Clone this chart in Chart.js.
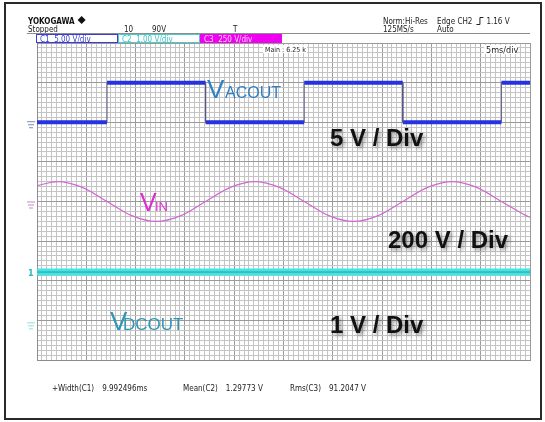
<!DOCTYPE html>
<html>
<head>
<meta charset="utf-8">
<script src="https://cdn.jsdelivr.net/npm/chart.js@4.4.1/dist/chart.umd.min.js"></script>
<style>
  html, body { margin: 0; padding: 0; background: #fff; }
  canvas { display: block; }
</style>
</head>
<body>
<canvas id="scopeChart" width="545" height="422"></canvas>
<script>
// Onda cuadrada de salida AC: tiempos de flanco (ms) y niveles (V)
const acEdges = [0, 7.1, 17.1, 27.1, 37.1, 47.1, 50];
const acLevels = [0, 5, 0, 5, 0, 5];

const vinTimes = [0, 2.1, 4.6, 7.1, 9.6, 12.1, 14.6, 17.1, 19.6, 22.1, 24.6, 27.1, 29.6, 32.1, 34.6, 37.1, 39.6, 42.1, 44.6, 47.1, 49.6, 50];
const vinValues = [100, 126, 89, 0, -89, -126, -89, 0, 89, 126, 89, 0, -89, -126, -89, 0, 89, 126, 89, 0, -89, -100];

// Salida DC
const dcTimes = [0, 50];
const dcValues = [1.22, 1.22];

// Textos de la pantalla
const channelLabels = ["C1  5.00 V/div", "C2  1.00 V/div", "C3  250 V/div"];
const measureLabels = ["+Width(C1)", "Mean(C2)", "Rms(C3)"];
const measureValues = ["9.992496ms", "1.29773 V", "91.2047 V"];

document.addEventListener("DOMContentLoaded", () => {
  // Puntos de la onda cuadrada: tramos horizontales y flancos por separado
  const acLevelPoints = [];
  const acEdgePoints = [];
  acLevels.forEach((v, i) => {
    acLevelPoints.push({ x: acEdges[i], y: v }, { x: acEdges[i + 1], y: v }, { x: acEdges[i + 1], y: null });
    if (i > 0) {
      acEdgePoints.push({ x: acEdges[i], y: acLevels[i - 1] }, { x: acEdges[i], y: v }, { x: acEdges[i], y: null });
    }
  });
  const vinPoints = vinTimes.map((t, i) => ({ x: t, y: vinValues[i] }));
  const dcPoints = dcTimes.map((t, i) => ({ x: t, y: dcValues[i] }));

  const isMajor = (v) => Math.abs(v - Math.round(v)) < 1e-6;
  const isMajorX = (v) => Math.abs(v / 5 - Math.round(v / 5)) < 1e-6;

  const narrow = "'Liberation Sans Narrow', 'DejaVu Sans Condensed', sans-serif";
  const sans = "'Liberation Sans', Arial, sans-serif";

  function txt(ctx, s, x, y, font, color) {
    ctx.font = font;
    ctx.fillStyle = color;
    ctx.textAlign = "left";
    ctx.textBaseline = "alphabetic";
    ctx.fillText(s, x, y);
    return x + ctx.measureText(s).width;
  }

  function groundMark(ctx, x, y, color) {
    ctx.strokeStyle = color;
    ctx.lineWidth = 1;
    ctx.beginPath();
    ctx.moveTo(x - 4, y - 2.5); ctx.lineTo(x + 4, y - 2.5);
    ctx.moveTo(x - 3, y + 0.5); ctx.lineTo(x + 3, y + 0.5);
    ctx.moveTo(x - 2, y + 3.5); ctx.lineTo(x + 2, y + 3.5);
    ctx.stroke();
  }

  const scopeText = {
    id: "scopeText",
    beforeDraw(chart) {
      const ctx = chart.ctx;
      ctx.save();
      ctx.fillStyle = "#fff";
      ctx.fillRect(0, 0, chart.width, chart.height);
      ctx.restore();
    },
    afterDraw(chart) {
      const ctx = chart.ctx;
      const area = chart.chartArea;
      ctx.save();

      // Marco exterior
      ctx.strokeStyle = "#2a2a2a";
      ctx.lineWidth = 2;
      ctx.strokeRect(5, 3, 536, 416);

      // Cabecera
      const logoEnd = txt(ctx, "YOKOGAWA", 28, 24, "bold 8px " + narrow, "#111");
      ctx.fillStyle = "#111";
      ctx.beginPath();
      const dx = logoEnd + 7;
      ctx.moveTo(dx, 16); ctx.lineTo(dx + 4, 20); ctx.lineTo(dx, 24); ctx.lineTo(dx - 4, 20); ctx.closePath();
      ctx.fill();
      const small = "8px " + narrow;
      txt(ctx, "Stopped", 28, 32, small, "#222");
      txt(ctx, "10", 124, 32, small, "#222");
      txt(ctx, "90V", 152, 32, small, "#222");
      txt(ctx, "T", 233, 32, small, "#222");
      txt(ctx, "Norm:Hi-Res", 383, 24, small, "#222");
      txt(ctx, "125MS/s", 383, 32, small, "#222");
      const edgeEnd = txt(ctx, "Edge CH2", 437, 24, small, "#222");
      ctx.strokeStyle = "#222";
      ctx.lineWidth = 1;
      ctx.beginPath();
      ctx.moveTo(edgeEnd + 4, 24.5); ctx.lineTo(edgeEnd + 7.5, 24.5); ctx.lineTo(edgeEnd + 7.5, 17.5); ctx.lineTo(edgeEnd + 11, 17.5);
      ctx.stroke();
      txt(ctx, "1.16 V", edgeEnd + 14, 24, small, "#222");
      txt(ctx, "Auto", 437, 32, small, "#222");
      ctx.strokeStyle = "#8c8c8c";
      ctx.beginPath();
      ctx.moveTo(27, 33.5); ctx.lineTo(area.right, 33.5);
      ctx.stroke();

      // Cajas de canal
      const boxes = [
        { x: 36, fill: "#fff", stroke: "#3b3bd6", color: "#3b3bd6" },
        { x: 118, fill: "#fff", stroke: "#49cccc", color: "#3cc4c4" },
        { x: 200, fill: "#f000f0", stroke: "#f000f0", color: "#f8d8f8" },
      ];
      boxes.forEach((b, i) => {
        ctx.fillStyle = b.fill;
        ctx.fillRect(b.x, 34.5, 81, 8);
        ctx.strokeStyle = b.stroke;
        ctx.strokeRect(b.x + 0.5, 34.5, 81, 8);
        txt(ctx, channelLabels[i], b.x + 4, 41.5, "8px " + narrow, b.color);
      });

      // Textos dentro de la reticula
      ctx.fillStyle = "#fff";
      ctx.fillRect(263, 45, 44, 8);
      txt(ctx, "Main : 6.25 k", 265, 52, "7px " + narrow, "#222");
      ctx.fillStyle = "#fff";
      ctx.fillRect(484, 45, 33, 9);
      txt(ctx, "5ms/div", 486, 53, "9px " + narrow, "#222");

      // Marcas de tierra de cada canal
      const yAC = chart.scales.yAC, yIN = chart.scales.yIN, yDC = chart.scales.yDC;
      groundMark(ctx, 31, yAC.getPixelForValue(0) + 2, "#7a86b8");
      groundMark(ctx, 31, yIN.getPixelForValue(0) + 3, "#c48ac4");
      groundMark(ctx, 31, yDC.getPixelForValue(0) + 5, "#8cdede");
      txt(ctx, "1", 28, yDC.getPixelForValue(dcValues[0]) + 4, "bold 9px " + narrow, "#2ab8b8");

      // Etiquetas grandes de las señales
      txt(ctx, "V", 207, 98, "26px " + sans, "#2f7fc4");
      txt(ctx, "ACOUT", 225, 98, "16px " + sans, "#2f7fc4");
      txt(ctx, "V", 140, 211, "25px " + sans, "#e02ad2");
      txt(ctx, "IN", 155, 211, "13px " + sans, "#e02ad2");
      txt(ctx, "V", 110, 330, "26px " + sans, "#3096b6");
      txt(ctx, "DCOUT", 123, 330, "17px " + sans, "#3096b6");

      ctx.shadowColor = "rgba(0,0,0,0.45)";
      ctx.shadowBlur = 4;
      ctx.shadowOffsetX = 2;
      ctx.shadowOffsetY = 2;
      txt(ctx, "5 V / Div", 330, 146, "bold 24px " + sans, "#111");
      txt(ctx, "200 V / Div", 388, 248, "bold 24px " + sans, "#111");
      txt(ctx, "1 V / Div", 330, 333, "bold 24px " + sans, "#111");
      ctx.shadowColor = "transparent";

      // Medidas
      const mx = [52, 183, 290];
      measureLabels.forEach((m, i) => {
        const end = txt(ctx, m, mx[i], 391, "8px " + narrow, "#222");
        txt(ctx, measureValues[i], end + 8, 391, "8px " + narrow, "#222");
      });

      ctx.restore();
    },
  };

  const ctx = document.getElementById("scopeChart").getContext("2d");
  new Chart(ctx, {
    type: "line",
    data: {
      datasets: [
        { data: dcPoints, yAxisID: "yDC", borderColor: "#1aa6a6", borderWidth: 1 },
        { data: dcPoints, yAxisID: "yDC", borderColor: "#45e3e3", borderWidth: 7 },
        { data: acEdgePoints, yAxisID: "yAC", borderColor: "#55558a", borderWidth: 1, spanGaps: false },
        { data: acLevelPoints, yAxisID: "yAC", borderColor: "#2432e0", borderWidth: 4, borderCapStyle: "butt", spanGaps: false },
        { data: vinPoints, yAxisID: "yIN", borderColor: "#d266d2", borderWidth: 1.2, cubicInterpolationMode: "monotone" },
      ],
    },
    options: {
      responsive: false,
      animation: false,
      devicePixelRatio: 1,
      layout: { padding: { left: 37, right: 15, top: 43, bottom: 62 } },
      elements: { point: { radius: 0 }, line: { tension: 0 } },
      plugins: { legend: { display: false }, tooltip: { enabled: false } },
      scales: {
        x: {
          type: "linear",
          min: 0,
          max: 50,
          ticks: { display: false, stepSize: 0.5 },
          grid: {
            drawTicks: false,
            color: (c) => (isMajorX(c.tick.value) ? "#9a9a9a" : "#c4c4c4"),
          },
          border: { display: true, color: "#8c8c8c" },
          afterFit: (s) => { s.height = 0; },
        },
        y: {
          min: -4,
          max: 4,
          ticks: { display: false, stepSize: 0.125 },
          grid: {
            drawTicks: false,
            color: (c) => (isMajor(c.tick.value) ? "#9a9a9a" : "#c4c4c4"),
          },
          border: { display: true, color: "#8c8c8c" },
          afterFit: (s) => { s.width = 0; },
        },
        yAC: { display: false, min: -30, max: 10 },
        yIN: { display: false, min: -1000, max: 1000 },
        yDC: { display: false, min: -1, max: 7 },
      },
    },
    plugins: [scopeText],
  });
});
</script>
</body>
</html>
